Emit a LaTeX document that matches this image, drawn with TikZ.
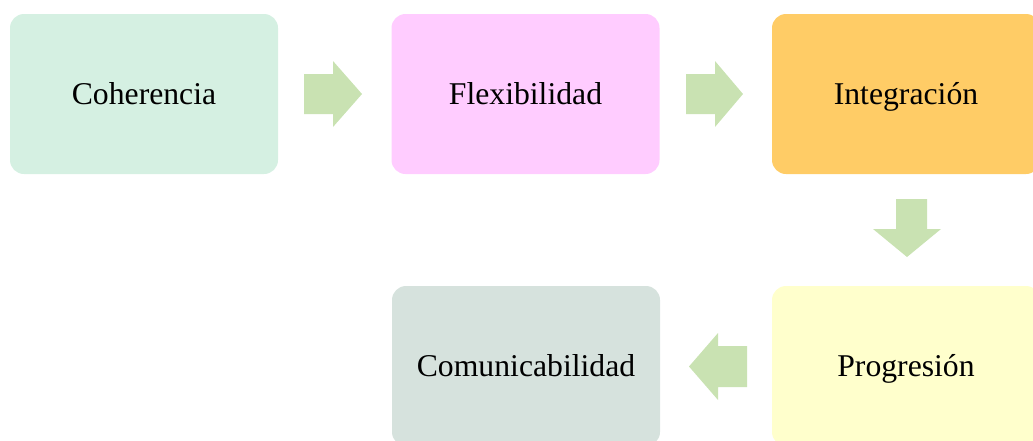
\documentclass[tikz,border=0pt]{standalone}
\usepackage{fontspec}
\setmainfont{Liberation Serif}
\definecolor{cCoh}{RGB}{213,240,226}
\definecolor{cFle}{RGB}{255,204,255}
\definecolor{cInt}{RGB}{255,204,102}
\definecolor{cPro}{RGB}{255,255,204}
\definecolor{cCom}{RGB}{214,226,221}
\definecolor{cArr}{RGB}{201,226,178}
\begin{document}
\begin{tikzpicture}[x=1pt,y=-1pt,
  box/.style={rectangle,rounded corners=14pt,minimum width=268pt,minimum height=160pt,inner sep=0pt,text height=21pt,text depth=0pt,font=\fontsize{31.7}{38}\selectfont},
  arrowfill/.style={fill=cArr}]
\useasboundingbox (0,0) rectangle (1033,440);
\clip (0,0) rectangle (1033,440);
\node[box,fill=cCoh] (coh) at (144,94) {Coherencia};
\node[box,fill=cFle] (fle) at (525.5,94) {Flexibilidad};
\node[box,fill=cInt] (int) at (906,94) {Integración};
\node[box,fill=cPro] (pro) at (906,366) {Progresión};
\node[box,fill=cCom] (com) at (526,366) {Comunicabilidad};
% right arrow 1
\fill[arrowfill] (304,74) -- (333,74) -- (333,61) -- (362,94) -- (333,127) -- (333,114) -- (304,114) -- cycle;
% right arrow 2
\fill[arrowfill] (686,74) -- (715,74) -- (715,61) -- (743,94) -- (715,127) -- (715,114) -- (686,114) -- cycle;
% down arrow
\fill[arrowfill] (896,199) -- (927,199) -- (927,229) -- (941,229) -- (907,257) -- (873,229) -- (896,229) -- cycle;
% left arrow
\fill[arrowfill] (747,346) -- (718,346) -- (718,333) -- (689,366.5) -- (718,400) -- (718,387) -- (747,387) -- cycle;
\end{tikzpicture}
\end{document}
